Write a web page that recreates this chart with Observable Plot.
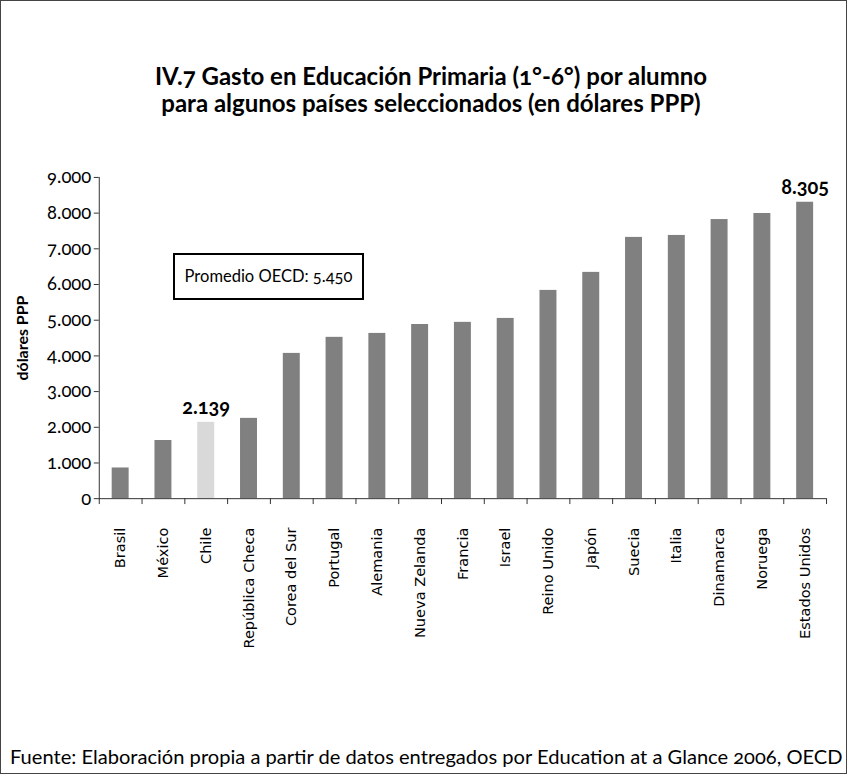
<!DOCTYPE html>
<html>
<head>
<meta charset="utf-8">
<script src="https://cdn.jsdelivr.net/npm/d3@7"></script>
<script src="https://cdn.jsdelivr.net/npm/@observablehq/plot@0.6"></script>
<style>
  html, body { margin: 0; padding: 0; background: #fff; }
  #page { position: relative; width: 847px; height: 774px; box-sizing: border-box; border: 1px solid #444; overflow: hidden; font-family: Lato, sans-serif; font-variant-numeric: oldstyle-nums; }
  #title { position: absolute; left: 0; top: 61px; width: 860px; text-align: center; font-weight: bold; font-size: 24px; line-height: 27px; color: #000; }
  #chart { position: absolute; left: -1px; top: 149px; }
  #box { position: absolute; left: 172px; top: 252px; width: 191px; height: 47px; box-sizing: border-box; border: 2px solid #000; font-size: 16.5px; line-height: 43px; text-align: center; color: #000; background: #fff; }
  #foot { position: absolute; left: 9px; top: 743px; font-size: 20.1px; color: #000; white-space: nowrap; }
</style>
</head>
<body>
<div id="page">
  <div id="title">IV.7 Gasto en Educación Primaria (1°-6°) por alumno<br>para algunos países seleccionados (en dólares PPP)</div>
  <div id="chart"></div>
  <div id="box">Promedio OECD: 5.450</div>
  <div id="foot">Fuente: Elaboración propia a partir de datos entregados por Education at a Glance 2006, OECD</div>
</div>
<script>
const countries = ["Brasil","México","Chile","República Checa","Corea del Sur","Portugal","Alemania","Nueva Zelanda","Francia","Israel","Reino Unido","Japón","Suecia","Italia","Dinamarca","Noruega","Estados Unidos"];
const values = [860, 1630, 2139, 2250, 4070, 4520, 4630, 4880, 4940, 5050, 5835, 6340, 7320, 7375, 7820, 7990, 8305];
const labeled = ["Chile", "Estados Unidos"];
const yTicks = [0,1000,2000,3000,4000,5000,6000,7000,8000,9000];

const data = countries.map((c, i) => ({country: c, value: values[i]}));
const locale = d3.formatLocale({decimal: ",", thousands: ".", grouping: [3], currency: ["$", ""]});
const fmt = locale.format(",d");

const W = 848, H = 511, mL = 99, mR = 20, mT = 27, mB = 162;
const step = (W - mL - mR) / countries.length;
const barW = 17;
const inset = (step - barW) / 2;

const chart = Plot.plot({
  width: W,
  height: H,
  marginLeft: mL,
  marginRight: mR,
  marginTop: mT,
  marginBottom: mB,
  style: {fontFamily: "Lato, sans-serif", background: "transparent", overflow: "visible"},
  x: {domain: countries, padding: 0, round: false, label: null},
  y: {domain: [0, 9000], label: null},
  marks: [
    Plot.barY(data, {x: "country", y: "value", insetLeft: inset, insetRight: inset, fill: d => d.country === "Chile" ? "#d9d9d9" : "#808080"}),
    Plot.frame({anchor: "left", stroke: "#333"}),
    Plot.ruleY([0], {stroke: "#333"}),
    Plot.ruleX(countries, {x: d => d, dx: -step / 2, y1: 0, y2: -165, stroke: "#333"}),
    Plot.ruleX([countries[countries.length - 1]], {x: d => d, dx: step / 2, y1: 0, y2: -165, stroke: "#333"}),
    Plot.axisY({ticks: yTicks, tickFormat: fmt, tickSize: 5, tickPadding: 3, fontSize: 18.5, stroke: "#333", fill: "#000"}),
    Plot.axisX({tickSize: 0, tickRotate: -90, tickPadding: 29, fontSize: 14.6, fontFamily: "DejaVu Sans, sans-serif", fill: "#000"}),
    Plot.text(data.filter(d => labeled.includes(d.country)), {x: "country", y: "value", text: d => fmt(d.value), dy: -15, fontSize: 20, fontWeight: "bold", fill: "#000"}),
    Plot.text(["dólares PPP"], {frameAnchor: "left", textAnchor: "middle", dx: -77, rotate: -90, fontSize: 16, fontWeight: "bold", fill: "#000"})
  ]
});
chart.querySelectorAll("g, text").forEach(el => {
  el.removeAttribute("font-variant");
  el.style.fontVariantNumeric = "oldstyle-nums";
  el.style.fontFeatureSettings = '"onum" 1';
});
document.getElementById("chart").appendChild(chart);
</script>
</body>
</html>
